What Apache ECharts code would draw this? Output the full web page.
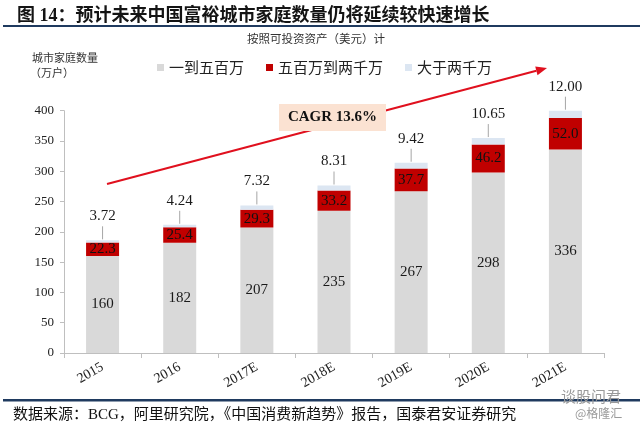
<!DOCTYPE html>
<html>
<head>
<meta charset="utf-8">
<script src="https://cdn.jsdelivr.net/npm/echarts@6/dist/echarts.min.js"></script>
<style>
html,body{margin:0;padding:0;background:#fff;}
#main{width:640px;height:427px;}
</style>
</head>
<body>
<div id="main"></div>
<script>
const categories = ['2015', '2016', '2017E', '2018E', '2019E', '2020E', '2021E'];
const oneToFiveMillion = [160, 182, 207, 235, 267, 298, 336];
const fiveToTwentyMillion = [22.3, 25.4, 29.3, 33.2, 37.7, 46.2, 52.0];
const overTwentyMillion = [3.72, 4.24, 7.32, 8.31, 9.42, 10.65, 12.00];
const seriesNames = ['一到五百万', '五百万到两千万', '大于两千万'];
const yTicks = { min: 0, max: 400, interval: 50 };
const cagrText = 'CAGR 13.6%';

const SERIF = '"Liberation Serif", "Times New Roman", "Noto Sans CJK SC", serif';
const CJK = '"Noto Sans CJK SC", "Liberation Serif", sans-serif';

const chart = echarts.init(document.getElementById('main'), null, { renderer: 'canvas' });

const totals = categories.map((c, i) => oneToFiveMillion[i] + fiveToTwentyMillion[i] + overTwentyMillion[i]);
const leaderData = categories.map((c, i) => [i, totals[i], overTwentyMillion[i]]);

// arrow annotation (decoration)
const ax0 = 107, ay0 = 184, ax1 = 547, ay1 = 68;
const ang = Math.atan2(ay1 - ay0, ax1 - ax0);
const hl = 11, hw = 4.5;
const bx = ax1 - hl * Math.cos(ang), by = ay1 - hl * Math.sin(ang);
const arrowHead = [
  [ax1, ay1],
  [bx + hw * Math.sin(ang), by - hw * Math.cos(ang)],
  [bx - hw * Math.sin(ang), by + hw * Math.cos(ang)]
];

const option = {
  animation: false,
  backgroundColor: '#fff',
  title: {
    text: '图 14：预计未来中国富裕城市家庭数量仍将延续较快速增长',
    left: 12, top: 2,
    textStyle: { fontSize: 18, fontWeight: 'bold', color: '#141414', fontFamily: SERIF }
  },
  legend: {
    data: seriesNames,
    left: 152, top: 55,
    icon: 'rect', itemWidth: 7, itemHeight: 7, itemGap: 22,
    textStyle: { fontSize: 15, color: '#222', fontFamily: CJK, padding: [0, 0, 0, 0] }
  },
  grid: { left: 64, right: 36, top: 110.7, bottom: 74 },
  xAxis: {
    type: 'category',
    data: categories,
    axisLine: { lineStyle: { color: '#bfbfbf', width: 1 } },
    axisTick: { show: true, length: 5, lineStyle: { color: '#bfbfbf' } },
    axisLabel: { rotate: 30, margin: 13, fontSize: 14, color: '#222', fontFamily: SERIF }
  },
  yAxis: {
    type: 'value',
    min: yTicks.min, max: yTicks.max, interval: yTicks.interval,
    axisLine: { show: true, lineStyle: { color: '#bfbfbf', width: 1 } },
    axisTick: { show: true, length: 4, lineStyle: { color: '#bfbfbf' } },
    splitLine: { show: false },
    axisLabel: { margin: 10, fontSize: 13, color: '#222', fontFamily: SERIF }
  },
  series: [
    {
      name: seriesNames[0], type: 'bar', stack: 'a', barWidth: 33,
      data: oneToFiveMillion,
      itemStyle: { color: '#d9d9d9' },
      label: { show: true, position: 'inside', fontSize: 15, color: '#1a1a1a', fontFamily: SERIF }
    },
    {
      name: seriesNames[1], type: 'bar', stack: 'a', barWidth: 33,
      data: fiveToTwentyMillion,
      itemStyle: { color: '#c00000' },
      label: { show: true, position: 'inside', fontSize: 15, color: '#111', fontFamily: SERIF,
        formatter: p => Number(p.value).toFixed(1) }
    },
    {
      name: seriesNames[2], type: 'bar', stack: 'a', barWidth: 33,
      data: overTwentyMillion,
      itemStyle: { color: '#dce6f2' },
      label: { show: false }
    },
    {
      type: 'custom',
      data: leaderData,
      silent: true,
      z: 5,
      renderItem: function (params, api) {
        const p = api.coord([api.value(0), api.value(1)]);
        return {
          type: 'group',
          children: [
            { type: 'line', shape: { x1: p[0], y1: p[1] - 1, x2: p[0], y2: p[1] - 14 },
              style: { stroke: '#a6a6a6', lineWidth: 1 } },
            { type: 'text', x: p[0], y: p[1] - 24,
              style: { text: Number(api.value(2)).toFixed(2), fill: '#1a1a1a', align: 'center',
                verticalAlign: 'middle', fontSize: 15, fontFamily: SERIF } }
          ]
        };
      }
    }
  ],
  graphic: [
    { type: 'text', left: 247, top: 33,
      style: { text: '按照可投资资产（美元）计', fill: '#333', fontSize: 11.5, fontFamily: CJK } },
    { type: 'text', left: 32, top: 52,
      style: { text: '城市家庭数量', fill: '#333', fontSize: 11, fontFamily: CJK } },
    { type: 'text', left: 30, top: 67,
      style: { text: '（万户）', fill: '#333', fontSize: 11, fontFamily: CJK } },
    { type: 'rect', shape: { x: 3, y: 25, width: 637, height: 2 }, style: { fill: '#1f3a5f' } },
    { type: 'rect', shape: { x: 3, y: 399, width: 637, height: 2.5 }, style: { fill: '#1f3a5f' } },
    { type: 'text', left: 13, top: 408,
      style: { text: '数据来源：BCG，阿里研究院，《中国消费新趋势》报告，国泰君安证券研究', fill: '#111',
        fontSize: 15, fontFamily: SERIF } },
    { type: 'text', left: 561, top: 389, z: 20,
      style: { text: '谈股问君', fill: '#9a9a9a', fontSize: 15, fontFamily: CJK } },
    { type: 'text', left: 575, top: 407, z: 20,
      style: { text: '@格隆汇', fill: '#9a9a9a', fontSize: 12, fontFamily: CJK } },
    { type: 'line', z: 10, shape: { x1: ax0, y1: ay0, x2: bx, y2: by },
      style: { stroke: '#e0101e', lineWidth: 2 } },
    { type: 'polygon', z: 10, shape: { points: arrowHead }, style: { fill: '#e0101e' } },
    { type: 'rect', z: 11, shape: { x: 279, y: 104, width: 107, height: 27 },
      style: { fill: '#fbe2d2' } },
    { type: 'text', z: 12, x: 332.5, y: 117.5,
      style: { text: cagrText, fill: '#111', fontSize: 15, fontWeight: 'bold', fontFamily: SERIF,
        align: 'center', verticalAlign: 'middle' } }
  ]
};
chart.setOption(option);
</script>
</body>
</html>
